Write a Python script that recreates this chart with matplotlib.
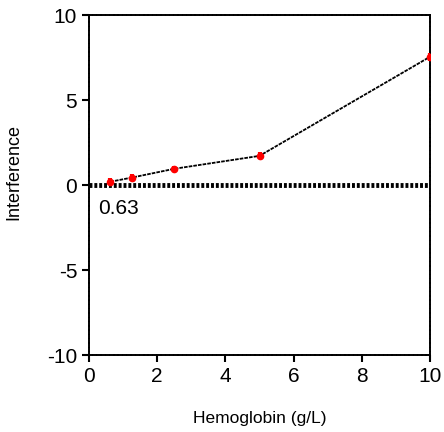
import matplotlib
matplotlib.use("Agg")
import matplotlib.pyplot as plt

plt.rcParams['font.family'] = ['Liberation Sans', 'DejaVu Sans']
plt.rcParams['axes.unicode_minus'] = False

hemoglobin = [0.625, 1.25, 2.5, 5, 10]
interference = [0.2, 0.44, 0.96, 1.72, 7.55]
errors = [0.2, 0.2, 0.15, 0.2, 0.25]

fig = plt.figure(figsize=(4.44, 4.32), dpi=100)
ax = fig.add_axes([0.2005, 0.178, 0.768, 0.787])

ax.axhline(0, color='black', linestyle=(0, (0.6, 0.4)), linewidth=3.5, zorder=1)
ax.plot(hemoglobin, interference, color='black', linestyle=(0, (2, 0.6)), linewidth=1.3, zorder=2)
ax.errorbar(hemoglobin, interference, yerr=errors, fmt='o', color='red',
            markersize=4.5, elinewidth=3, capsize=0, zorder=3)
ax.text(0.26, -1.4, "0.63", fontsize=15, ha='left', va='center')

ax.set_xlim(0, 10)
ax.set_ylim(-10, 10)
ax.set_xticks([0, 2, 4, 6, 8, 10])
ax.set_yticks([-10, -5, 0, 5, 10])
ax.tick_params(labelsize=15, length=5, width=1.5, direction='out')
for s in ax.spines.values():
    s.set_linestyle((0, (1.4, 0.8)))
    s.set_linewidth(1.4)

ax.set_xlabel("Hemoglobin (g/L)", fontsize=12.5, labelpad=18)
ax.set_ylabel("Interference", fontsize=13)
ax.yaxis.set_label_coords(-0.194, 0.54)

fig.savefig("out.png", dpi=100)
